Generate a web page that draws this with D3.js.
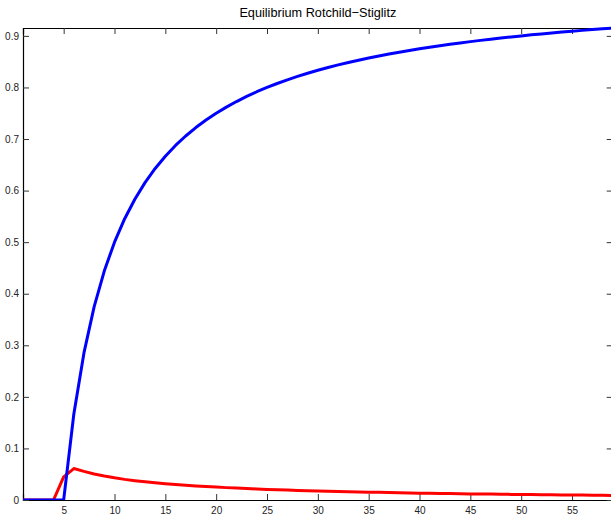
<!DOCTYPE html>
<html><head><meta charset="utf-8">
<script src="https://cdn.jsdelivr.net/npm/d3@7"></script>
<style>
html,body{margin:0;padding:0;background:#fff;}
svg{display:block;}
text{font-family:"Liberation Sans",Arial,Helvetica,sans-serif;}
</style></head>
<body><svg id="c" width="611" height="514"></svg>
<script>
const titleText = "Equilibrium Rotchild\u2212Stiglitz";
const xValues = d3.range(1, 60);
const blueSeries = [0,0,0,0,0,0.1667,0.2857,0.375,0.4444,0.5,0.5455,0.5833,0.6154,0.6429,0.6667,0.6875,0.7059,0.7222,0.7368,0.75,0.7619,0.7727,0.7826,0.7917,0.8,0.8077,0.8148,0.8214,0.8276,0.8333,0.8387,0.8438,0.8485,0.8529,0.8571,0.8611,0.8649,0.8684,0.8718,0.875,0.878,0.881,0.8837,0.8864,0.8889,0.8913,0.8936,0.8958,0.898,0.9,0.902,0.9038,0.9057,0.9074,0.9091,0.9107,0.9123,0.9138,0.9153];
const redSeries = [0,0,0,0,0.045,0.061,0.0555,0.0505,0.0465,0.0430,0.0400,0.0375,0.0353,0.0333,0.0316,0.0300,0.0286,0.0273,0.0261,0.0250,0.0240,0.0231,0.0222,0.0214,0.0206,0.0199,0.0192,0.0186,0.0180,0.0175,0.0170,0.0165,0.0160,0.0156,0.0152,0.0148,0.0144,0.0140,0.0136,0.0133,0.0130,0.0127,0.0124,0.0121,0.0118,0.0116,0.0114,0.0111,0.0109,0.0107,0.0105,0.0103,0.0101,0.0099,0.0097,0.0095,0.0093,0.0091,0.0089];
const xTicks = [5,10,15,20,25,30,35,40,45,50,55];
const yTicks = [0,0.1,0.2,0.3,0.4,0.5,0.6,0.7,0.8,0.9];

const svg = d3.select("#c");
const L = 23, R = 612.7, T = 28, B = 500;
const x = d3.scaleLinear().domain([1, 59]).range([L, R]);
const y = d3.scaleLinear().domain([0, 0.9153]).range([B, T]);

svg.append("defs").append("clipPath").attr("id","clip")
  .append("rect").attr("x",L).attr("y",T-2).attr("width",R-L).attr("height",B-T+2);

const tickLen = 6;
const fmt = d => d === 0 ? "0" : d3.format(".1f")(d);

const gB = svg.append("g").attr("transform",`translate(0,${B})`)
  .call(d3.axisBottom(x).tickValues(xTicks).tickSize(-tickLen).tickPadding(10).tickFormat(d3.format("d")));
const gT = svg.append("g").attr("transform",`translate(0,${T})`)
  .call(d3.axisTop(x).tickValues(xTicks).tickSize(-tickLen).tickFormat(""));
const gL = svg.append("g").attr("transform",`translate(${L},0)`)
  .call(d3.axisLeft(y).tickValues(yTicks).tickSize(-tickLen).tickPadding(4).tickFormat(fmt));
const gR = svg.append("g").attr("transform",`translate(${R},0)`)
  .call(d3.axisRight(y).tickValues(yTicks).tickSize(-tickLen).tickFormat(""));

[gB,gT,gL,gR].forEach(g=>{
  g.select(".domain").attr("stroke","#000").attr("stroke-width",1.2);
  g.selectAll(".tick line").attr("stroke","#333").attr("stroke-width",1);
  g.selectAll(".tick text").attr("font-size","10px").attr("fill","#222")
   .attr("font-family","'Liberation Sans',Arial,Helvetica,sans-serif");
});
gB.selectAll(".tick text").attr("dy","0.35em").attr("y",10);

const line = d3.line().x((d,i)=>x(xValues[i])).y(d=>y(d));
const plot = svg.append("g").attr("clip-path","url(#clip)");
plot.append("path").datum(redSeries).attr("d",line)
  .attr("fill","none").attr("stroke","#ff0000").attr("stroke-width",3).attr("stroke-linejoin","round");
plot.append("path").datum(blueSeries).attr("d",line)
  .attr("fill","none").attr("stroke","#0000ff").attr("stroke-width",3).attr("stroke-linejoin","round");

svg.append("text").attr("x",(L+R)/2).attr("y",16.5).attr("text-anchor","middle")
  .attr("font-size","12.7px").attr("fill","#000").text(titleText);
</script></body></html>
